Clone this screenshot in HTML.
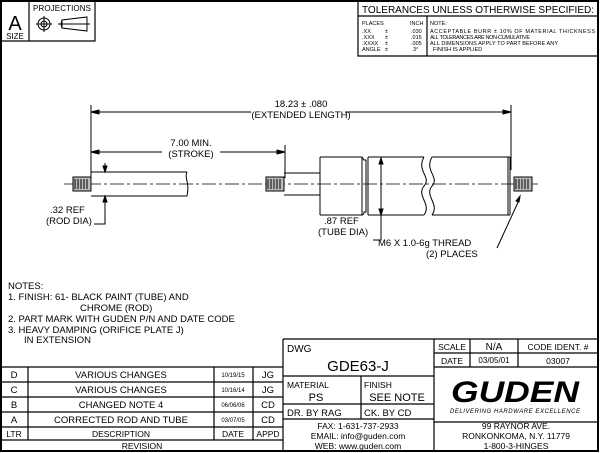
<!DOCTYPE html>
<html><head><meta charset="utf-8"><style>
html,body{margin:0;padding:0;background:#fff}
svg{display:block}
text{font-family:"Liberation Sans",sans-serif;fill:#000}
</style></head><body>
<svg width="600" height="453" viewBox="0 0 600 453" xmlns="http://www.w3.org/2000/svg">
<g fill="none" stroke="#000">
<rect x="1" y="1" width="597" height="450" stroke-width="2"/>
<path d="M1 41H95V1M29 1V41" stroke-width="1.2"/>
<circle cx="44" cy="24" r="6"/><circle cx="44" cy="24" r="3"/><path d="M36 24H52M44 16V32"/>
<path d="M61 24L62 20L87 17V31L62 28Z M58 24H90 M62 20V28"/>
<path d="M358 1V56H598M358 16H598M427 16V56" stroke-width="1.2"/>
</g>
<text x="15" y="30" font-size="20" text-anchor="middle">A</text>
<text x="15" y="39" font-size="8" text-anchor="middle">SIZE</text>
<text x="33" y="11" font-size="8" textLength="58">PROJECTIONS</text>
<text x="478" y="13" font-size="10" text-anchor="middle" textLength="232" lengthAdjust="spacingAndGlyphs">TOLERANCES UNLESS OTHERWISE SPECIFIED:</text>
<g font-size="5.5">
<text x="362" y="25">PLACES</text><text x="410" y="25">INCH</text>
<text x="362" y="33">.XX</text><text x="385" y="33">±</text><text x="411" y="33">.030</text>
<text x="362" y="39">.XXX</text><text x="385" y="39">±</text><text x="411" y="39">.015</text>
<text x="362" y="45">.XXXX</text><text x="385" y="45">±</text><text x="411" y="45">.005</text>
<text x="362" y="51">ANGLE</text><text x="385" y="51">±</text><text x="413" y="51">3°</text>
<text x="430" y="25">NOTE:</text>
<text x="430" y="33" textLength="165">ACCEPTABLE BURR ± 10% OF MATERIAL THICKNESS</text>
<text x="430" y="39" textLength="100">ALL TOLERANCES ARE NON-CUMULATIVE</text>
<text x="430" y="45" textLength="128">ALL DIMENSIONS APPLY TO PART BEFORE ANY</text>
<text x="433" y="51">FINISH IS APPLIED</text>
</g>
<g fill="none" stroke="#000" stroke-width="1">
<path d="M64 184H540" stroke-dasharray="14,3,3,3" stroke-width="0.8"/>
<path d="M91 105V180M511 105V170M285 145V178"/>
<path d="M91 112H251M345 112H511M91 152H162M220 152H285"/>
<path d="M91 112l8 -2v4zM511 112l-8 -2v4zM91 152l8 -2v4zM285 152l-8 -2v4z" fill="#000"/>
<rect x="73" y="177" width="18" height="14" fill="#bbb"/><path d="M75 179V189M78 179V189M81 179V189M84 179V189M87 179V189" stroke-width="1"/>
<path d="M91 172H187M91 196H187M187 172c-3 6 3 10 0 24"/>
<path d="M105 163V172M105 196V224H94" /><path d="M105 172l-2 -6h4zM105 196l-2 6h4z" fill="#000"/>
<rect x="266" y="177" width="18" height="14" fill="#bbb"/><path d="M268 179V189M271 179V189M274 179V189M277 179V189M280 179V189" stroke-width="1"/>
<path d="M284 173H320M284 195H320"/>
<path d="M320 157H362M320 215H362M320 157V215M362 157c2 3 2 3 2 3h2v52h-2c0 0 0 3-2 3M368 157V215M368 157H424M368 215H424M366 160V212"/>
<path d="M362 157V215"/>
<path d="M424 157c-8 14 8 20 0 29c-8 10 8 18 0 29M432 157c-8 14 8 20 0 29c-8 10 8 18 0 29"/>
<path d="M432 157H510M432 215H510M510 157V215M508 157V215"/>
<path d="M381 158V240H373"/><path d="M381 158l-2 6h4zM381 215l-2 -6h4z" fill="#000"/>
<rect x="514" y="177" width="18" height="14" fill="#bbb"/><path d="M516 179V189M519 179V189M522 179V189M525 179V189M528 179V189" stroke-width="1"/>
<path d="M497 248L520 198"/><path d="M520 196l-4 5l3 1z" fill="#000"/>
</g>
<g font-size="9.5">
<text x="301" y="107" text-anchor="middle">18.23 ± .080</text>
<text x="301" y="118" text-anchor="middle">(EXTENDED LENGTH)</text>
<text x="191" y="146" text-anchor="middle">7.00 MIN.</text>
<text x="191" y="157" text-anchor="middle">(STROKE)</text>
<text x="50" y="213">.32 REF</text>
<text x="46" y="224">(ROD DIA)</text>
<text x="324" y="224">.87 REF</text>
<text x="318" y="235">(TUBE DIA)</text>
<text x="378" y="246">M6 X 1.0-6g THREAD</text>
<text x="426" y="257">(2) PLACES</text>
</g>
<g font-size="9.5">
<text x="8" y="289">NOTES:</text>
<text x="8" y="300">1. FINISH: 61-  BLACK PAINT (TUBE) AND</text>
<text x="80" y="311">CHROME (ROD)</text>
<text x="8" y="322">2. PART MARK WITH GUDEN P/N AND DATE CODE</text>
<text x="8" y="333">3. HEAVY DAMPING (ORIFICE PLATE J)</text>
<text x="24" y="343">IN EXTENSION</text>
</g>
<g fill="none" stroke="#000" stroke-width="1.2">
<path d="M283 339H598M283 339V451M434 339V451"/>
<path d="M1 367H283M1 382H283M1 397H283M1 412H283M1 427H283M1 440H283"/>
<path d="M28 367V440M214 367V440M253 367V440"/>
<path d="M283 376H434M283 404H434M283 419H434M361 376V419"/>
<path d="M434 353H598M434 367H598M434 422H598M470 339V367M518 339V367"/>
</g>
<g font-size="9.5">
<text x="14" y="378" text-anchor="middle">D</text><text x="121" y="378" text-anchor="middle">VARIOUS CHANGES</text><text x="268" y="378" text-anchor="middle">JG</text>
<text x="14" y="393" text-anchor="middle">C</text><text x="121" y="393" text-anchor="middle">VARIOUS CHANGES</text><text x="268" y="393" text-anchor="middle">JG</text>
<text x="14" y="408" text-anchor="middle">B</text><text x="121" y="408" text-anchor="middle">CHANGED NOTE 4</text><text x="268" y="408" text-anchor="middle">CD</text>
<text x="14" y="423" text-anchor="middle">A</text><text x="121" y="423" text-anchor="middle">CORRECTED ROD AND TUBE</text><text x="268" y="423" text-anchor="middle">CD</text>
</g>
<g font-size="6" text-anchor="middle">
<text x="233" y="377">10/19/15</text><text x="233" y="392">10/16/14</text><text x="233" y="407">06/06/06</text><text x="233" y="422">03/07/05</text>
</g>
<g font-size="8.5" text-anchor="middle">
<text x="14" y="437">LTR</text><text x="121" y="437">DESCRIPTION</text><text x="233" y="437">DATE</text><text x="268" y="437">APPD</text>
<text x="142" y="449">REVISION</text>
</g>
<text x="287" y="352" font-size="10">DWG</text>
<text x="358" y="371" font-size="15" text-anchor="middle">GDE63-J</text>
<text x="287" y="388" font-size="8.5">MATERIAL</text><text x="364" y="388" font-size="8.5">FINISH</text>
<text x="316" y="401" font-size="11" text-anchor="middle">PS</text><text x="397" y="401" font-size="11" text-anchor="middle">SEE NOTE</text>
<text x="287" y="416" font-size="9.5">DR. BY  RAG</text><text x="364" y="416" font-size="9.5">CK. BY  CD</text>
<g font-size="8.5" text-anchor="middle">
<text x="358" y="429">FAX:  1-631-737-2933</text>
<text x="358" y="439">EMAIL:  info@guden.com</text>
<text x="358" y="449">WEB:  www.guden.com</text>
<text x="516" y="429">99 RAYNOR AVE.</text>
<text x="516" y="439">RONKONKOMA, N.Y. 11779</text>
<text x="516" y="449">1-800-3-HINGES</text>
</g>
<text x="452" y="350" font-size="8.5" text-anchor="middle">SCALE</text>
<text x="494" y="350" font-size="10" text-anchor="middle">N/A</text>
<text x="558" y="350" font-size="8.5" text-anchor="middle">CODE IDENT. #</text>
<text x="452" y="364" font-size="8.5" text-anchor="middle">DATE</text>
<text x="494" y="363" font-size="8" text-anchor="middle">03/05/01</text>
<text x="558" y="364" font-size="8.5" text-anchor="middle">03007</text>
<text x="515" y="402" font-size="30" font-weight="bold" font-style="italic" text-anchor="middle" textLength="128" lengthAdjust="spacingAndGlyphs">GUDEN</text>
<text x="515" y="413" font-size="6" font-style="italic" text-anchor="middle" textLength="130">DELIVERING HARDWARE EXCELLENCE</text>
</svg>
</body></html>
